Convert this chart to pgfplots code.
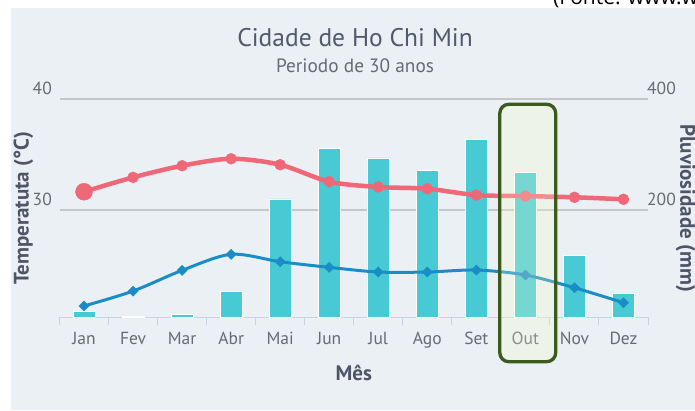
\documentclass[border=0pt]{standalone}
\usepackage{fontspec}
\setmainfont{PT Sans}
\newfontfamily\fontefont{Open Sans}
\usepackage{pgfplots}
\usepackage{pgfplotstable}
\pgfplotsset{compat=1.18}
\definecolor{bgc}{HTML}{EBF0F5}
\definecolor{barc}{HTML}{48CAD4}
\definecolor{redc}{HTML}{EF6878}
\definecolor{bluec}{HTML}{1A8DC6}
\definecolor{gridc}{HTML}{C4C6C8}
\definecolor{axisc}{HTML}{C8D4E3}
\definecolor{titlec}{HTML}{505A6C}
\definecolor{labc}{HTML}{666B75}
\definecolor{atitc}{HTML}{4D5566}
\definecolor{boxc}{HTML}{3C5A1E}
\definecolor{boxf}{HTML}{F8FFCC}

\pgfplotstableread{
x rain tmax tmin
0 16 31.65 21.33
1 7 32.95 22.68
2 12 34.0 24.55
3 53 34.63 26.0
4 220 34.09 25.33
5 311 32.56 24.82
6 294 32.08 24.4
7 272 31.92 24.4
8 327 31.35 24.58
9 268 31.26 24.13
10 118 31.15 22.98
11 50 30.97 21.63
}\datatable

\begin{document}
\begin{tikzpicture}[x=1pt,y=1pt]
\useasboundingbox (0,0) rectangle (695,410);
\begin{scope}
\clip (0,0) rectangle (695,410);
\fill[bgc] (11,0) rectangle (695,402);
\node[anchor=base west, inner sep=0pt, font=\fontefont\fontsize{21}{21}\selectfont] at (553,405) {(Fonte: www.weather-and-climate.com)};
\end{scope}
\node[font=\fontsize{25.5}{25.5}\selectfont, text=titlec, anchor=base, inner sep=0pt] at (355,363.3) {Cidade de Ho Chi Min};
\node[font=\fontsize{19.3}{19.3}\selectfont, text=labc, anchor=base, inner sep=0pt] at (355,337.7) {Periodo de 30 anos};

% rainfall axis (right) with x axis and grid
\begin{axis}[at={(59.5pt,92.7pt)}, anchor=south west, scale only axis,
  width=588.5pt, height=218pt,
  xmin=-0.5, xmax=11.5, ymin=6.1, ymax=400,
  /pgf/number format/assume math mode=true,
  axis x line*=bottom, axis y line*=right,
  x axis line style={-, draw=axisc, line width=1.6pt},
  y axis line style={draw=none},
  tick align=outside,
  xtick={0,...,11},
  xticklabels={Jan,Fev,Mar,Abr,Mai,Jun,Jul,Ago,Set,Out,Nov,Dez},
  minor xtick={-0.5,0.5,...,11.5},
  major tick length=0pt, minor tick length=8pt,
  minor tick style={draw=axisc, line width=1pt},
  xticklabel style={font=\fontsize{17.5}{17.5}\selectfont, text=labc, anchor=base, yshift=-26.7pt},
  ytick={200,400},
  ymajorgrids, grid style={draw=gridc, line width=1.8pt},
  yticklabel style={font=\fontsize{17.5}{17.5}\selectfont, text=labc, anchor=base west, inner sep=0pt, xshift=-1pt, yshift=4.5pt},
  xlabel={\bfseries Mês},
  every axis x label/.style={at={(axis description cs:0.5,-0.2899)}, anchor=base, inner sep=0pt, font=\fontsize{21}{21}\selectfont, text=atitc},
  ylabel={\bfseries Pluviosidade (mm)},
  every axis y label/.style={at={(axis description cs:1.0637,0.5)}, rotate=-90, anchor=center, font=\fontsize{21}{21}\selectfont, text=atitc},
]
\addplot[ybar, bar width=22pt, fill=barc, draw=white, line width=0.8pt] table[x=x,y=rain] {\datatable};
\end{axis}

% temperature axis (left)
\begin{axis}[at={(59.5pt,92.7pt)}, anchor=south west, scale only axis,
  width=588.5pt, height=218pt,
  xmin=-0.5, xmax=11.5, ymin=20.31, ymax=40,
  /pgf/number format/assume math mode=true,
  axis x line=none, axis y line*=left,
  y axis line style={draw=none},
  ytick={30,40}, major tick length=0pt,
  yticklabel style={font=\fontsize{17.5}{17.5}\selectfont, text=labc, anchor=base east, inner sep=0pt, xshift=-7.5pt, yshift=4.5pt},
  ylabel={\bfseries Temperatuta (°C)},
  every axis y label/.style={at={(axis description cs:-0.0612,0.5)}, rotate=90, anchor=center, font=\fontsize{21}{21}\selectfont, text=atitc},
  clip=false,
]
\addplot[bluec, line width=3pt, smooth, mark=square*, mark size=3.6pt, mark options={rotate=45, line width=0.4pt, fill=bluec}] table[x=x,y=tmin] {\datatable};
\addplot[redc, line width=4.5pt, smooth, mark=*, mark size=5.5pt, mark options={line width=0.4pt, fill=redc}] table[x=x,y=tmax] {\datatable};
\addplot[only marks, mark=*, mark size=8.5pt, mark options={draw=redc, fill=redc, line width=0.4pt}] coordinates {(0,31.65)};
\end{axis}

\draw[boxc, line width=3.3pt, rounded corners=9pt, fill=boxf, fill opacity=0.25] (499.8,48.3) rectangle (555.7,305.7);
\end{tikzpicture}
\end{document}
